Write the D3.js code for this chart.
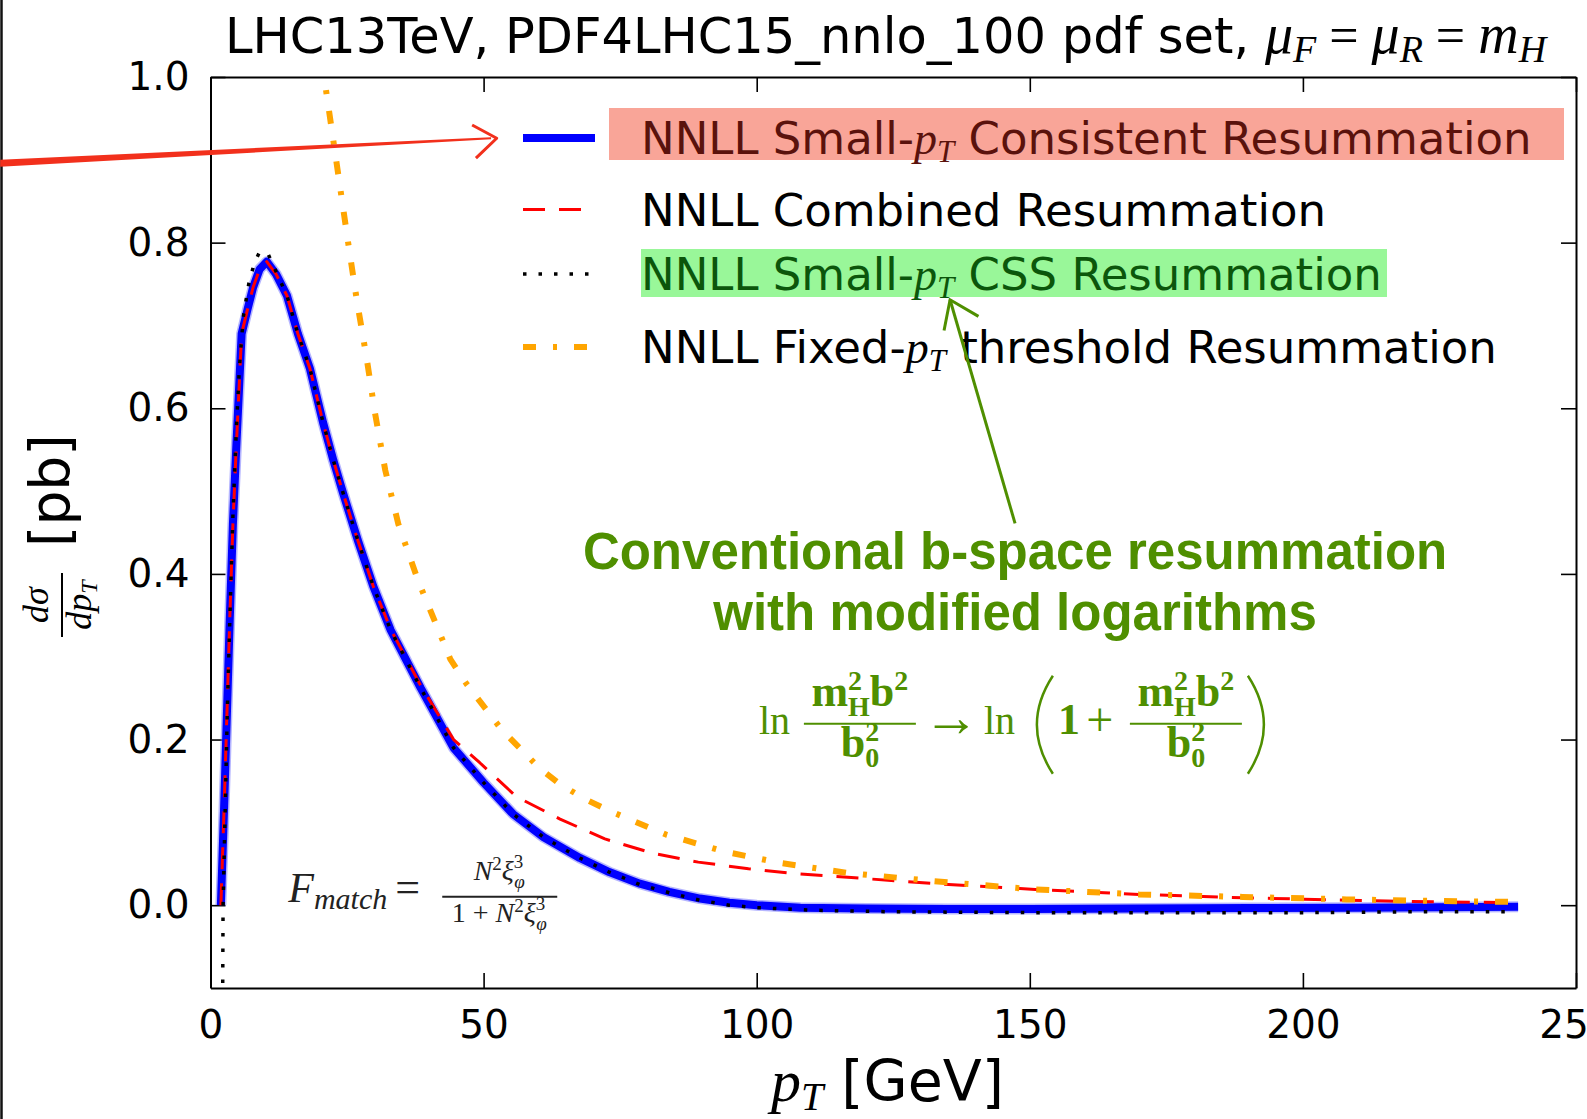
<!DOCTYPE html>
<html>
<head>
<meta charset="utf-8">
<script src="https://cdn.jsdelivr.net/npm/d3@7"></script>
<style>
  body { margin: 0; background: #fff; }
  svg { display: block; }
</style>
</head>
<body>
<div id="container"></div>
<script>
// values: [pT in GeV, dsigma/dpT in pb]
const consistentPts = [[1.9,0.0],[2.5,0.12],[3.0,0.23],[3.5,0.34],[4.1,0.46],[4.7,0.55],[5.2,0.62],[5.7,0.69],[6.8,0.72],[7.8,0.746],[9.0,0.768],[10.3,0.777],[12,0.762],[14,0.736],[16,0.69],[18.2,0.648],[20.6,0.583],[22.5,0.537],[24.3,0.497],[27,0.44],[29.8,0.385],[33,0.332],[38.5,0.262],[44.5,0.19],[50,0.148],[55.4,0.11],[61,0.082],[67.6,0.057],[73,0.04],[78.6,0.026],[84,0.016],[89.6,0.008],[95,0.003],[100,0.0],[108,-0.003],[120,-0.004],[135,-0.0045],[150,-0.0045],[170,-0.004],[190,-0.0035],[210,-0.003],[225,-0.0025],[239.4,-0.002]];
const combinedPts = [[1.9,0.0],[2.5,0.12],[3.0,0.23],[3.5,0.34],[4.1,0.46],[4.7,0.55],[5.2,0.62],[5.7,0.69],[6.8,0.72],[7.8,0.746],[9.0,0.768],[10.3,0.777],[12,0.762],[14,0.736],[16,0.69],[18.2,0.648],[20.6,0.583],[22.5,0.537],[24.3,0.497],[27,0.44],[29.8,0.385],[33,0.333],[38.5,0.265],[44.5,0.2],[49.3,0.172],[56,0.131],[64,0.104],[72.2,0.08],[80.8,0.063],[89.3,0.052],[98.5,0.044],[107,0.038],[118,0.033],[132.5,0.026],[151,0.019],[170,0.013],[189,0.009],[208,0.006],[225,0.004],[239.4,0.003]];
const cssPts = [[2.2,-0.15],[2.3,0.0],[2.7,0.12],[3.1,0.24],[3.6,0.36],[4.1,0.47],[4.7,0.57],[5.3,0.65],[6.0,0.71],[7.0,0.75],[8.0,0.775],[9.0,0.789],[10.5,0.787],[12,0.765],[14,0.736],[16,0.69],[18.2,0.648],[20.6,0.583],[22.5,0.537],[24.3,0.497],[27,0.44],[29.8,0.385],[33,0.332],[38.5,0.262],[44.5,0.19],[50,0.148],[55.4,0.11],[61,0.082],[67.6,0.057],[73,0.04],[78.6,0.025],[84,0.015],[89.6,0.006],[95,0.0],[100,-0.003],[110,-0.006],[125,-0.008],[150,-0.009],[175,-0.009],[200,-0.009],[220,-0.008],[237,-0.008]];
const thresholdPts = [[20.4,1.02],[20.8,1.0],[23,0.9],[25.2,0.8],[26.8,0.73],[28.6,0.66],[30.1,0.595],[32,0.525],[34.4,0.46],[38,0.392],[42,0.328],[43.9,0.297],[46.9,0.267],[53.3,0.212],[60.3,0.165],[64,0.146],[68.9,0.127],[73.7,0.112],[83.5,0.085],[93.9,0.065],[104.3,0.051],[116.5,0.039],[132.5,0.029],[151,0.019],[170,0.013],[189,0.01],[208,0.007],[225,0.005],[239.4,0.004]];

const xTicks = [0, 50, 100, 150, 200, 250];
const yTicks = [0.0, 0.2, 0.4, 0.6, 0.8, 1.0];
const xDomain = [0, 250];
const yDomain = [-0.1, 1.0];

// legend text, split where the italic p_T goes
const legendLabels = [
  ["NNLL Small-", " Consistent Resummation"],
  ["NNLL Combined Resummation"],
  ["NNLL Small-", " CSS Resummation"],
  ["NNLL Fixed-", " threshold Resummation"]
];
const titleText = "LHC13TeV, PDF4LHC15_nnlo_100 pdf set, ";
const noteLines = ["Conventional b-space resummation", "with modified logarithms"];

const SANS = "DejaVu Sans";
const SERIF = "Liberation Serif";
const GREEN = "#4f8f00";

const width = 1587, height = 1119;
const margin = {top: 77, right: 11, bottom: 131, left: 210.5};

const x = d3.scaleLinear().domain(xDomain).range([margin.left, width - margin.right]);
const y = d3.scaleLinear().domain(yDomain).range([height - margin.bottom, margin.top]);

const svg = d3.select("#container").append("svg")
  .attr("width", width).attr("height", height)
  .style("background", "#fff");

function richText(g, px, py, parts, anchor) {
  const t = g.append("text").attr("x", px).attr("y", py)
    .attr("text-anchor", anchor || "start");
  parts.forEach(p => {
    const ts = t.append("tspan").text(p.t)
      .attr("font-family", p.f || SANS)
      .attr("font-size", p.s)
      .attr("font-style", p.i ? "italic" : "normal")
      .attr("font-weight", p.b ? "bold" : "normal");
    if (p.dy) ts.attr("dy", p.dy);
    if (p.dx) ts.attr("dx", p.dx);
  });
  return t;
}

// slide border at the far left
svg.append("line").attr("x1", 1.5).attr("x2", 1.5).attr("y1", 0).attr("y2", height)
  .attr("stroke", "#111").attr("stroke-width", 2.5);

// clip for the curves
svg.append("clipPath").attr("id", "plotclip").append("rect")
  .attr("x", margin.left).attr("y", margin.top)
  .attr("width", x.range()[1] - margin.left).attr("height", y.range()[0] - margin.top);

// axes, ticks pointing inwards
const axisStyle = g => {
  g.selectAll(".domain").attr("stroke", "#000").attr("stroke-width", 2);
  g.selectAll(".tick line").attr("stroke", "#000").attr("stroke-width", 1.6);
  g.selectAll("text").attr("font-family", SANS).attr("font-size", 39).attr("fill", "#000");
};
svg.append("g").attr("transform", `translate(0,${y.range()[0]})`)
  .call(d3.axisBottom(x).tickValues(xTicks).tickSizeInner(-15).tickSizeOuter(0).tickPadding(22).tickFormat(d3.format("d")))
  .call(axisStyle);
svg.append("g").attr("transform", `translate(0,${margin.top})`)
  .call(d3.axisTop(x).tickValues(xTicks).tickSizeInner(-15).tickSizeOuter(0).tickFormat(""))
  .call(axisStyle);
svg.append("g").attr("transform", `translate(${margin.left},0)`)
  .call(d3.axisLeft(y).tickValues(yTicks).tickSizeInner(-15).tickSizeOuter(0).tickPadding(21).tickFormat(d3.format(".1f")))
  .call(axisStyle);
svg.append("g").attr("transform", `translate(${x.range()[1]},0)`)
  .call(d3.axisRight(y).tickValues(yTicks).tickSizeInner(-15).tickSizeOuter(0).tickFormat(""))
  .call(axisStyle);

// curves
const line = d3.line().x(d => x(d[0])).y(d => y(d[1]));
const curves = svg.append("g").attr("clip-path", "url(#plotclip)");
const series = [
  {pts: consistentPts, color: "#0000ff", w: 8, dash: null},
  {pts: combinedPts, color: "#ff0000", w: 3, dash: "22,14"},
  {pts: cssPts, color: "#000", w: 3.5, dash: "3.5,12"},
  {pts: thresholdPts, color: "#ffa500", w: 6, dash: "13,17,4,17"}
];
// soft edge under the blue line
curves.append("path").datum(consistentPts).attr("d", line)
  .attr("fill", "none").attr("stroke", "#6b6bff").attr("stroke-width", 11).attr("opacity", 0.5)
  .attr("stroke-linejoin", "round");
series.forEach(s => {
  curves.append("path").datum(s.pts).attr("d", line)
    .attr("fill", "none").attr("stroke", s.color).attr("stroke-width", s.w)
    .attr("stroke-dasharray", s.dash).attr("stroke-linejoin", "round");
});

// legend
const legRows = [138, 209.5, 274, 347];
const leg = svg.append("g");
leg.append("rect").attr("x", 609).attr("y", 108).attr("width", 955).attr("height", 52).attr("fill", "#f9a598");
leg.append("rect").attr("x", 641).attr("y", 249).attr("width", 746).attr("height", 48).attr("fill", "#99f799");
const labelColors = ["#5a120c", "#000", "#0b560b", "#000"];
series.forEach((s, i) => {
  leg.append("line").attr("x1", 523).attr("x2", 595).attr("y1", legRows[i]).attr("y2", legRows[i])
    .attr("stroke", s.color).attr("stroke-width", s.w).attr("stroke-dasharray", s.dash);
  const lab = legendLabels[i];
  const parts = [{t: lab[0], s: 45}];
  if (lab.length > 1) {
    parts.push({t: "p", s: 46, f: SERIF, i: true});
    parts.push({t: "T", s: 31, f: SERIF, i: true, dy: 8});
    parts.push({t: lab[1], s: 45, dy: -8});
  }
  richText(leg, 641, legRows[i] + 16, parts).attr("fill", labelColors[i]);
});

// title
richText(svg, 225, 53, [
  {t: titleText, s: 49.5},
  {t: "μ", s: 56, f: SERIF, i: true},
  {t: "F", s: 38, f: SERIF, i: true, dy: 9},
  {t: "=", s: 52, f: SERIF, dy: -9, dx: 13},
  {t: "μ", s: 56, f: SERIF, i: true, dx: 13},
  {t: "R", s: 38, f: SERIF, i: true, dy: 9},
  {t: "=", s: 52, f: SERIF, dy: -9, dx: 13},
  {t: "m", s: 56, f: SERIF, i: true, dx: 13},
  {t: "H", s: 38, f: SERIF, i: true, dy: 9}
]).attr("fill", "#000");

// x label
richText(svg, 771, 1101, [
  {t: "p", s: 60, f: SERIF, i: true},
  {t: "T", s: 40, f: SERIF, i: true, dy: 9},
  {t: " [GeV]", s: 57, dy: -9}
]).attr("fill", "#000");

// y label
const yl = svg.append("g").attr("transform", "translate(62,637) rotate(-90)");
yl.append("line").attr("x1", 0).attr("x2", 64).attr("y1", 0).attr("y2", 0).attr("stroke", "#000").attr("stroke-width", 2);
richText(yl, 32, -14, [{t: "dσ", s: 36, f: SERIF, i: true}], "middle").attr("fill", "#000");
richText(yl, 32, 29, [
  {t: "dp", s: 36, f: SERIF, i: true},
  {t: "T", s: 24, f: SERIF, i: true, dy: 6}
], "middle").attr("fill", "#000");
richText(yl, 90, 6.5, [{t: "[pb]", s: 55}]).attr("fill", "#000");

// annotations
// red arrow pointing at the first legend entry
const redStart = [-38.5, 0.896], redTip = [52.1, 0.926];
const rs = [x(redStart[0]), y(redStart[1])], rt = [x(redTip[0]), y(redTip[1])];
svg.append("path")
  .attr("d", `M${rs[0]},${rs[1] - 3.5} L${rt[0] - 4},${rt[1] - 1} L${rt[0] - 4},${rt[1] + 1} L${rs[0]},${rs[1] + 3.5} Z`)
  .attr("fill", "#f2301c");
svg.append("polyline")
  .attr("points", [[x(47.9), y(0.942)], [x(52.4), y(0.926)], [x(48.6), y(0.902)]].map(p => p.join(",")).join(" "))
  .attr("fill", "none").attr("stroke", "#f2301c").attr("stroke-width", 3).attr("stroke-linejoin", "round");

// green arrow pointing at the CSS entry
svg.append("line").attr("x1", x(147.3)).attr("y1", y(0.461)).attr("x2", x(135.4)).attr("y2", y(0.731))
  .attr("stroke", GREEN).attr("stroke-width", 3);
svg.append("polyline")
  .attr("points", [[x(134.3), y(0.694)], [x(135.4), y(0.731)], [x(140.6), y(0.711)]].map(p => p.join(",")).join(" "))
  .attr("fill", "none").attr("stroke", GREEN).attr("stroke-width", 3);

// green note
noteLines.forEach((t, i) => {
  svg.append("text").attr("x", x(147.3)).attr("y", y([0.406, 0.332][i]))
    .attr("text-anchor", "middle").attr("font-family", "Liberation Sans").attr("font-weight", "bold")
    .attr("font-size", 51).attr("fill", GREEN).text(t);
});

// ln formula
const fx = x(100.4), fy = y(0.207);
const fg = svg.append("g").attr("fill", GREEN);
const lnPart = (dx) => richText(fg, fx + dx, fy, [{t: "ln", s: 40, f: SERIF}]);
const frac = (cx) => {
  fg.append("line").attr("x1", fx + cx - 56).attr("x2", fx + cx + 56).attr("y1", fy - 10).attr("y2", fy - 10)
    .attr("stroke", GREEN).attr("stroke-width", 2);
  richText(fg, fx + cx, fy - 28, [
    {t: "m", s: 44, f: SERIF, b: true},
    {t: "2", s: 28, f: SERIF, b: true, dy: -16},
    {t: "H", s: 28, f: SERIF, b: true, dy: 26, dx: -14},
    {t: "b", s: 44, f: SERIF, b: true, dy: -10},
    {t: "2", s: 28, f: SERIF, b: true, dy: -16}
  ], "middle");
  richText(fg, fx + cx, fy + 23, [
    {t: "b", s: 44, f: SERIF, b: true},
    {t: "2", s: 28, f: SERIF, b: true, dy: -16},
    {t: "0", s: 28, f: SERIF, b: true, dy: 26, dx: -14}
  ], "middle");
};
lnPart(0);
frac(101);
richText(fg, fx + 192, fy + 2, [{t: "→", s: 56, f: SERIF}], "middle");
lnPart(225);
fg.append("path").attr("d", `M${fx + 294},${fy - 58} Q${fx + 262},${fy - 9} ${fx + 294},${fy + 40}`)
  .attr("fill", "none").attr("stroke", GREEN).attr("stroke-width", 2.5);
richText(fg, fx + 299, fy, [{t: "1", s: 44, f: SERIF, b: true}]);
richText(fg, fx + 341, fy + 2, [{t: "+", s: 48, f: SERIF}], "middle");
frac(427);
fg.append("path").attr("d", `M${fx + 489},${fy - 58} Q${fx + 521},${fy - 9} ${fx + 489},${fy + 40}`)
  .attr("fill", "none").attr("stroke", GREEN).attr("stroke-width", 2.5);

// F_match formula
const mx = x(14.6), my = y(0.004);
const mg = svg.append("g").attr("fill", "#222");
richText(mg, mx - 2, my, [
  {t: "F", s: 42, f: SERIF, i: true},
  {t: "match", s: 30, f: SERIF, i: true, dy: 7},
  {t: "=", s: 44, f: SERIF, dy: -7, dx: 8}
]);
mg.append("line").attr("x1", mx + 152).attr("x2", mx + 267).attr("y1", my - 5).attr("y2", my - 5)
  .attr("stroke", "#222").attr("stroke-width", 2);
richText(mg, mx + 209, my - 22, [
  {t: "N", s: 28, f: SERIF, i: true},
  {t: "2", s: 19, f: SERIF, dy: -10},
  {t: "ξ", s: 28, f: SERIF, i: true, dy: 10},
  {t: "3", s: 19, f: SERIF, dy: -12},
  {t: "φ", s: 19, f: SERIF, i: true, dy: 20, dx: -9}
], "middle");
richText(mg, mx + 209, my + 20, [
  {t: "1 + ", s: 28, f: SERIF},
  {t: "N", s: 28, f: SERIF, i: true},
  {t: "2", s: 19, f: SERIF, dy: -10},
  {t: "ξ", s: 28, f: SERIF, i: true, dy: 10},
  {t: "3", s: 19, f: SERIF, dy: -12},
  {t: "φ", s: 19, f: SERIF, i: true, dy: 20, dx: -9}
], "middle");
</script>
</body>
</html>
